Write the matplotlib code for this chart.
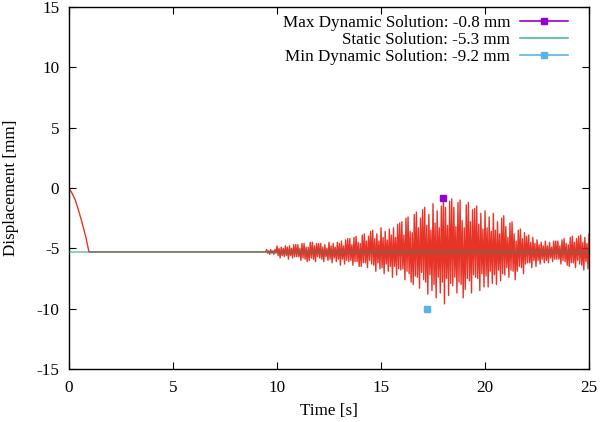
import numpy as np
import matplotlib
matplotlib.use("Agg")
from matplotlib import pyplot as plt

# --- dati ---
# rampa iniziale (applicazione del carico statico)
ramp_t = [0.0, 0.15, 0.3, 0.45, 0.6, 0.8, 0.96, 9.45]
ramp_y = [0.0, -0.45, -1.0, -1.8, -2.7, -4.0, -5.3, -5.3]

# picchi/valli alternati della risposta dinamica, uno ogni 0.05 s da 9.5 s a 25 s
# (una riga = mezzo secondo)
dyn_t0 = 9.5
dyn_dt = 0.05
dyn_y = [
    -5.1, -5.4, -5.2, -5.5, -5.1, -5.4, -5.2, -5.5, -5.1, -5.4,  # 9.5
    -4.8, -5.6, -5.0, -5.8, -4.9, -5.6, -5.0, -5.7, -4.8, -5.6,  # 10.0
    -4.9, -5.9, -4.8, -5.6, -5.0, -5.8, -4.7, -5.7, -4.7, -5.7,
    -4.7, -5.7, -5.0, -6.0, -4.6, -5.8, -4.6, -5.9, -4.9, -6.1,  # 11.0
    -4.9, -6.0, -4.5, -5.8, -4.5, -5.9, -4.8, -6.1, -4.6, -5.7,
    -4.6, -5.8, -4.6, -5.9, -4.9, -6.1, -4.7, -5.7, -5.0, -6.0,  # 12.0
    -4.5, -5.9, -4.8, -6.2, -4.6, -5.8, -4.9, -6.1, -4.5, -5.9,
    -4.6, -6.4, -4.4, -5.9, -4.8, -6.3, -4.3, -6.0, -4.2, -6.1,  # 13.0
    -4.2, -6.0, -4.7, -6.4, -4.1, -6.1, -4.0, -6.1, -4.5, -6.5,
    -4.6, -6.5, -3.9, -6.2, -3.8, -6.2, -4.4, -6.6, -4.0, -6.0,  # 14.0
    -3.6, -6.3, -3.5, -6.4, -4.2, -6.9, -3.8, -6.2, -4.4, -6.7,
    -3.3, -6.6, -4.1, -7.1, -3.6, -6.3, -4.3, -6.9, -3.4, -6.5,  # 15.0
    -3.9, -7.4, -3.3, -6.5, -4.1, -7.2, -3.0, -6.7, -2.9, -6.8,
    -2.8, -6.7, -3.9, -7.6, -2.5, -6.9, -2.4, -7.1, -3.6, -7.8,  # 16.0
    -3.7, -8.0, -2.2, -7.3, -2.0, -7.4, -3.3, -8.3, -2.5, -7.0,
    -1.8, -7.6, -1.6, -7.8, -3.1, -8.8, -2.2, -7.2, -3.5, -8.5,  # 17.0
    -1.3, -8.0, -2.9, -9.1, -1.9, -7.4, -3.3, -8.7, -1.5, -7.8,
    -0.8, -9.6, -1.6, -7.5, -3.1, -8.9, -1.1, -7.9, -0.9, -8.1,  # 18.0
    -1.6, -7.4, -3.2, -8.7, -1.2, -7.8, -1.0, -8.0, -2.7, -9.1,
    -3.3, -8.4, -1.4, -7.5, -1.2, -7.7, -2.8, -8.7, -1.8, -7.2,  # 19.0
    -1.7, -7.4, -1.5, -7.5, -3.0, -8.5, -2.1, -7.1, -3.4, -8.2,
    -1.9, -7.3, -3.3, -8.2, -2.4, -6.9, -3.6, -7.9, -2.1, -7.2,  # 20.0
    -3.5, -8.0, -2.8, -6.8, -3.8, -7.7, -2.5, -7.1, -2.3, -7.2,
    -3.2, -6.6, -4.1, -7.4, -2.9, -6.8, -2.8, -6.9, -3.8, -7.6,  # 21.0
    -4.4, -6.9, -3.5, -6.5, -3.4, -6.6, -4.2, -7.1, -3.7, -6.3,
    -4.0, -6.2, -3.9, -6.2, -4.5, -6.6, -4.1, -6.0, -4.6, -6.5,  # 22.0
    -4.3, -6.0, -4.7, -6.3, -4.5, -5.9, -4.8, -6.2, -4.4, -6.0,
    -4.8, -6.2, -4.5, -5.8, -4.9, -6.1, -4.4, -5.9, -4.4, -5.9,  # 23.0
    -4.4, -5.9, -4.8, -6.3, -4.3, -6.0, -4.2, -6.1, -4.6, -6.4,
    -4.7, -6.5, -4.1, -6.2, -4.0, -6.2, -4.5, -6.6, -4.2, -6.0,  # 24.0
    -4.0, -6.3, -3.9, -6.4, -4.5, -6.8, -4.1, -6.1, -4.6, -6.7,
    -3.8,                                                        # 25.0
]

static_value = -5.3
max_point = (18.0, -0.8)
min_point = (17.2, -10.0)

labels = [
    "Max Dynamic Solution: -0.8 mm",
    "Static Solution: -5.3 mm",
    "Min Dynamic Solution: -9.2 mm",
]

# colori di default di gnuplot
c_red = "#e51e10"
c_purple = "#9400d3"
c_green = "#009e73"
c_blue = "#56b4e9"

plt.rcParams["font.family"] = ["Liberation Serif", "DejaVu Serif"]
plt.rcParams["font.size"] = 12.3
plt.rcParams["axes.unicode_minus"] = False

fig = plt.figure(figsize=(6.0, 4.22), dpi=100)
ax = fig.add_axes([0.115, 0.1256, 0.8667, 0.8578])

dyn_t = dyn_t0 + dyn_dt * np.arange(len(dyn_y))
t_all = np.concatenate([ramp_t, dyn_t])
y_all = np.concatenate([ramp_y, dyn_y])

ax.plot(t_all, y_all, color=c_red, lw=1.0, alpha=0.9, zorder=2)

ax.plot([max_point[0]], [max_point[1]], ls="none", marker="s",
        ms=4.5, color=c_purple, zorder=4)
ax.axhline(static_value, color=c_green, lw=1.2, alpha=0.55, zorder=3)
ax.plot([min_point[0]], [min_point[1]], ls="none", marker="s",
        ms=4.5, color=c_blue, zorder=4)

# handle della legenda in stile gnuplot (linea + marker)
h_max, = ax.plot([], [], color=c_purple, lw=1.2, marker="s", ms=4)
h_static, = ax.plot([], [], color=c_green, lw=1.2, alpha=0.7)
h_min, = ax.plot([], [], color=c_blue, lw=1.2, marker="s", ms=4)

ax.legend([h_max, h_static, h_min], labels, loc="upper right",
          bbox_to_anchor=(0.96, 0.978), frameon=False, markerfirst=False,
          numpoints=1, handlelength=2.8, handletextpad=0.6, labelspacing=0.05,
          borderaxespad=0.0, borderpad=0.0)

ax.set_xlim(0, 25)
ax.set_ylim(-15, 15)
ax.set_xticks([0, 5, 10, 15, 20, 25])
ax.set_yticks([-15, -10, -5, 0, 5, 10, 15])
ax.tick_params(direction="in", top=True, right=True, length=5, width=0.8)
ax.tick_params(axis="x", pad=8)
ax.tick_params(axis="y", pad=7)
for s in ax.spines.values():
    s.set_linewidth(1.0)

ax.set_xlabel("Time [s]")
ax.set_ylabel("Displacement [mm]")
ax.xaxis.set_label_coords(0.5, -0.094)
ax.yaxis.set_label_coords(-0.097, 0.5)

fig.savefig("out.png", dpi=100)
